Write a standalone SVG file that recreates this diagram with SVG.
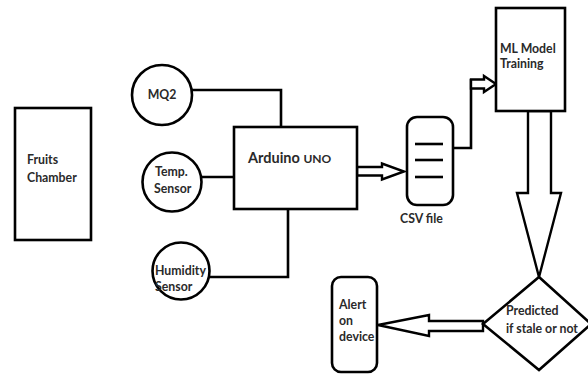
<svg xmlns="http://www.w3.org/2000/svg" width="588" height="374" viewBox="0 0 588 374">
<style>
.s{fill:#fff;stroke:#000;stroke-width:2.6;stroke-linejoin:miter}
.l{fill:none;stroke:#000;stroke-width:2.6}
.a{fill:#fff;stroke:#000;stroke-width:2.4;stroke-linejoin:miter}
text{font-family:Lato,"Open Sans","Liberation Sans",sans-serif;font-weight:bold;font-size:12.3px;fill:#2a2a2a}
</style>
<rect width="588" height="374" fill="#fff"/>
<g id="connectors">
<polyline class="l" points="192,90 281,90 281,129"/>
<polyline class="l" points="202,177 237,177"/>
<polyline class="l" points="209,277 288,277 288,209"/>
<polygon class="a" points="357,167 382,167 382,163.5 404,171.5 382,179.5 382,175.5 357,175.5"/>
<polyline class="l" points="453,148 471,148 471,79"/>
<polygon class="a" points="471,79.5 484,79.5 484,76 496,84 484,92 484,88.5 471,88.5"/>
<polygon class="a" points="528,111 528,193 517,193 539,277 561,193 551,193 551,111"/>
<polygon class="a" points="483,321 429,321 429,315 378,325 429,336 429,331 483,331"/>
</g>
<g id="fruits">
<rect class="s" x="15" y="108" width="76" height="132"/>
<text x="27" y="164">Fruits</text>
<text x="27" y="182">Chamber</text>
</g>
<g id="mq2">
<circle class="s" cx="162" cy="95" r="30"/>
<text x="162" y="99" text-anchor="middle">MQ2</text>
</g>
<g id="temp">
<circle class="s" cx="172" cy="182" r="29.5"/>
<text x="155" y="176">Temp.</text>
<text x="154" y="193">Sensor</text>
</g>
<g id="humidity">
<circle class="s" cx="181" cy="271" r="28.5"/>
<text x="155" y="275">Humidity</text>
<text x="155" y="291">Sensor</text>
</g>
<g id="arduino">
<rect class="s" x="234" y="127" width="123" height="82"/>
<text x="248" y="163" style="font-size:14.5px">Arduino <tspan style="font-size:12px">UNO</tspan></text>
</g>
<g id="csv">
<rect class="s" x="407" y="117" width="46" height="88" rx="10"/>
<line class="l" x1="415" y1="144" x2="443" y2="144"/>
<line class="l" x1="415" y1="160" x2="443" y2="160"/>
<line class="l" x1="415" y1="177" x2="443" y2="177"/>
<text x="400" y="223">CSV file</text>
</g>
<g id="ml">
<rect class="s" x="496" y="8" width="69" height="103"/>
<text x="500" y="53">ML Model</text>
<text x="500" y="68">Training</text>
</g>
<g id="predicted">
<polygon class="s" points="539,277 591,324 539,370 483,324"/>
<text x="506" y="315">Predicted</text>
<text x="506" y="333">if stale or not</text>
</g>
<g id="alert">
<rect class="s" x="332" y="277" width="45" height="95" rx="9"/>
<text x="339" y="309">Alert</text>
<text x="339" y="325">on</text>
<text x="339" y="341">device</text>
</g>
</svg>
